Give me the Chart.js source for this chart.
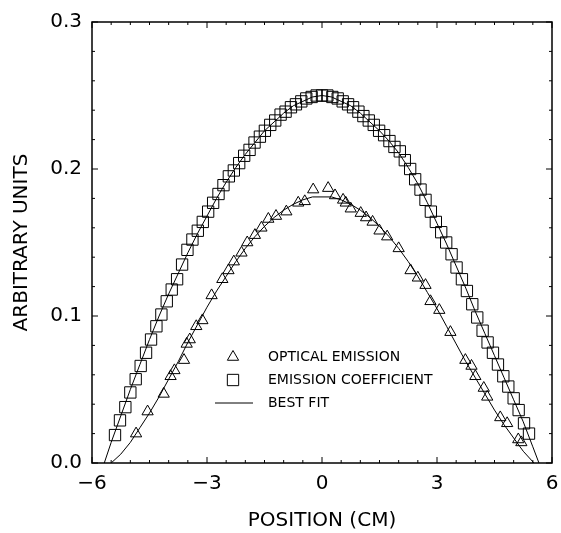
<!DOCTYPE html>
<html lang="en">
<head>
  <meta charset="UTF-8" />
  <title>Arbitrary units vs position</title>
  <script src="https://cdn.jsdelivr.net/npm/chart.js"></script>
  <style>
    body { margin: 0; background: #fff; }
    .wrap { width: 561px; height: 533px; }
  </style>
</head>
<body>
  <div class="wrap"><canvas id="profileChart"></canvas></div>

  <script>
    // optical emission (triangles)
    const triX = [-4.85, -4.55, -4.13, -3.95, -3.85, -3.60, -3.53, -3.45, -3.28, -3.12, -2.88, -2.60, -2.44, -2.30, -2.10, -1.95, -1.75, -1.58, -1.40, -1.20,
                  -0.93, -0.62, -0.45, -0.23, 0.16, 0.34, 0.55, 0.62, 0.75, 1.01, 1.15, 1.32, 1.50, 1.70, 2.00, 2.31, 2.50, 2.70, 2.83, 3.06,
                  3.35, 3.74, 3.90, 4.00, 4.22, 4.31, 4.65, 4.83, 5.12, 5.20];
    const triY = [0.020, 0.035, 0.047, 0.059, 0.063, 0.070, 0.081, 0.084, 0.093, 0.097, 0.114, 0.125, 0.131, 0.137, 0.143, 0.150, 0.155, 0.160, 0.166, 0.168,
                  0.171, 0.177, 0.178, 0.186, 0.187, 0.182, 0.179, 0.177, 0.173, 0.170, 0.167, 0.164, 0.158, 0.154, 0.146, 0.131, 0.126, 0.121, 0.110, 0.104,
                  0.089, 0.070, 0.066, 0.059, 0.051, 0.045, 0.031, 0.027, 0.016, 0.014];

    // emission coefficient (squares)
    const sqX = [-5.40, -5.27, -5.13, -5.00, -4.86, -4.73, -4.59, -4.46, -4.32, -4.19, -4.05, -3.92, -3.78, -3.65, -3.51, -3.38, -3.24, -3.11, -2.97, -2.84,
                 -2.70, -2.57, -2.43, -2.30, -2.16, -2.03, -1.89, -1.76, -1.62, -1.49, -1.35, -1.22, -1.08, -0.95, -0.81, -0.68, -0.54, -0.41, -0.27, -0.14,
                 0.00, 0.14, 0.27, 0.41, 0.54, 0.68, 0.81, 0.95, 1.08, 1.22, 1.35, 1.49, 1.62, 1.76, 1.89, 2.03, 2.16, 2.30, 2.43, 2.57,
                 2.70, 2.84, 2.97, 3.11, 3.24, 3.38, 3.51, 3.65, 3.78, 3.92, 4.05, 4.19, 4.32, 4.46, 4.59, 4.73, 4.86, 5.00, 5.13, 5.27, 5.40];
    const sqY = [0.019, 0.029, 0.038, 0.048, 0.057, 0.066, 0.075, 0.084, 0.093, 0.101, 0.110, 0.118, 0.125, 0.135, 0.145, 0.152, 0.158, 0.164, 0.171, 0.177,
                 0.183, 0.189, 0.195, 0.199, 0.204, 0.209, 0.213, 0.218, 0.222, 0.226, 0.230, 0.233, 0.237, 0.239, 0.242, 0.244, 0.246, 0.248, 0.249, 0.250,
                 0.250, 0.250, 0.249, 0.248, 0.246, 0.244, 0.242, 0.239, 0.236, 0.233, 0.230, 0.226, 0.223, 0.219, 0.215, 0.212, 0.206, 0.200, 0.193, 0.186,
                 0.179, 0.171, 0.164, 0.157, 0.150, 0.142, 0.133, 0.125, 0.117, 0.108, 0.099, 0.090, 0.082, 0.075, 0.067, 0.059, 0.052, 0.044, 0.036, 0.027, 0.020];

    // best fit curves
    const fitTriX = [-5.50, -5.25, -5.00, -4.75, -4.50, -4.25, -4.00, -3.75, -3.50, -3.25, -3.00, -2.75, -2.50, -2.25, -2.00, -1.75, -1.50, -1.25, -1.00, -0.75, -0.50, -0.25,
                     0.00, 0.25, 0.50, 0.75, 1.00, 1.25, 1.50, 1.75, 2.00, 2.25, 2.50, 2.75, 3.00, 3.25, 3.50, 3.75, 4.00, 4.25, 4.50, 4.75, 5.00, 5.25, 5.53];
    const fitTriY = [0.000, 0.006, 0.014, 0.024, 0.034, 0.045, 0.057, 0.069, 0.082, 0.094, 0.106, 0.117, 0.127, 0.137, 0.146, 0.154, 0.161, 0.167, 0.172, 0.176, 0.179, 0.181,
                     0.181, 0.181, 0.179, 0.176, 0.172, 0.167, 0.161, 0.154, 0.146, 0.137, 0.127, 0.116, 0.105, 0.093, 0.081, 0.069, 0.058, 0.047, 0.036, 0.026, 0.017, 0.008, 0.000];
    const fitSqX = [-5.68, -5.50, -5.25, -5.00, -4.75, -4.50, -4.25, -4.00, -3.75, -3.50, -3.25, -3.00, -2.75, -2.50, -2.25, -2.00, -1.75, -1.50, -1.25, -1.00, -0.75, -0.50, -0.25,
                    0.00, 0.25, 0.50, 0.75, 1.00, 1.25, 1.50, 1.75, 2.00, 2.25, 2.50, 2.75, 3.00, 3.25, 3.50, 3.75, 4.00, 4.25, 4.50, 4.75, 5.00, 5.25, 5.50, 5.66];
    const fitSqY = [0.000, 0.014, 0.032, 0.050, 0.067, 0.084, 0.100, 0.115, 0.129, 0.143, 0.156, 0.168, 0.180, 0.191, 0.201, 0.210, 0.218, 0.226, 0.232, 0.238, 0.243, 0.246, 0.249,
                    0.250, 0.249, 0.246, 0.243, 0.238, 0.232, 0.226, 0.219, 0.211, 0.201, 0.190, 0.177, 0.163, 0.149, 0.134, 0.119, 0.103, 0.088, 0.073, 0.058, 0.043, 0.028, 0.011, 0.000];

    const xLabelTicks = [-6, -3, 0, 3, 6];
    const yLabelTicks = [0.0, 0.1, 0.2, 0.3];

    const FONT = 'DejaVu Sans';
    const pts = (xs, ys) => xs.map((x, i) => ({ x: x, y: ys[i] }));
    const isMajor = (v, list) => list.some(t => Math.abs(t - v) < 1e-6);

    // frame with inward ticks on all four sides, plus the boxed-in legend
    const frameTicks = {
      id: 'frameTicks',
      afterDraw(chart) {
        const { ctx, chartArea: a, scales: { x, y } } = chart;
        ctx.save();
        ctx.strokeStyle = '#000';
        ctx.lineWidth = 1.5;
        ctx.strokeRect(a.left, a.top, a.right - a.left, a.bottom - a.top);
        ctx.lineWidth = 1;
        ctx.beginPath();
        x.ticks.forEach(t => {
          const px = x.getPixelForValue(t.value);
          const len = isMajor(t.value, xLabelTicks) ? 6 : 3;
          ctx.moveTo(px, a.bottom); ctx.lineTo(px, a.bottom - len);
          ctx.moveTo(px, a.top); ctx.lineTo(px, a.top + len);
        });
        y.ticks.forEach(t => {
          const py = y.getPixelForValue(t.value);
          const len = isMajor(t.value, yLabelTicks) ? 6 : 3;
          ctx.moveTo(a.left, py); ctx.lineTo(a.left + len, py);
          ctx.moveTo(a.right, py); ctx.lineTo(a.right - len, py);
        });
        ctx.stroke();

        // legend
        const ds = chart.data.datasets;
        const rows = [357, 380, 403];
        ctx.font = '14px "' + FONT + '"';
        ctx.textBaseline = 'middle';
        ctx.textAlign = 'left';
        [0, 1].forEach(i => {
          ctx.fillStyle = 'rgba(0,0,0,0)';
          Chart.helpers.drawPoint(ctx, {
            pointStyle: ds[i].pointStyle, radius: ds[i].pointRadius,
            borderWidth: 1, rotation: 0
          }, 233, rows[i]);
          ctx.fillStyle = '#000';
          ctx.fillText(ds[i].label, 268, rows[i]);
        });
        ctx.beginPath();
        ctx.moveTo(215, rows[2]);
        ctx.lineTo(253, rows[2]);
        ctx.stroke();
        ctx.fillText(ds[2].label, 268, rows[2]);
        ctx.restore();
      }
    };

    new Chart(document.getElementById('profileChart'), {
      type: 'scatter',
      data: {
        datasets: [
          {
            label: 'OPTICAL EMISSION',
            data: pts(triX, triY),
            pointStyle: 'triangle',
            pointRadius: 6.5,
            borderColor: '#000',
            borderWidth: 1,
            backgroundColor: 'rgba(0,0,0,0)'
          },
          {
            label: 'EMISSION COEFFICIENT',
            data: pts(sqX, sqY),
            pointStyle: 'rect',
            pointRadius: 8,
            borderColor: '#000',
            borderWidth: 1,
            backgroundColor: 'rgba(0,0,0,0)'
          },
          {
            label: 'BEST FIT',
            data: pts(fitTriX, fitTriY),
            showLine: true,
            pointRadius: 0,
            borderColor: '#000',
            borderWidth: 1
          },
          {
            label: 'BEST FIT',
            data: pts(fitSqX, fitSqY),
            showLine: true,
            pointRadius: 0,
            borderColor: '#000',
            borderWidth: 1
          }
        ]
      },
      options: {
        responsive: true,
        maintainAspectRatio: false,
        animation: false,
        layout: { padding: { top: 22, right: 6, left: 0, bottom: 0 } },
        plugins: {
          legend: { display: false },
          tooltip: { enabled: false }
        },
        scales: {
          x: {
            type: 'linear',
            min: -6,
            max: 6,
            afterFit: s => { s.height = 70; s.paddingLeft = 0; s.paddingRight = 0; },
            grid: { display: false, drawTicks: false },
            border: { display: false },
            ticks: {
              stepSize: 0.5,
              autoSkip: false,
              maxRotation: 0,
              minRotation: 0,
              padding: 9,
              color: '#000',
              font: { family: FONT, size: 20 },
              callback: v => isMajor(v, xLabelTicks) ? String(Math.round(v)).replace('-', '\u2212') : ''
            },
            title: {
              display: true,
              text: 'POSITION (CM)',
              color: '#000',
              font: { family: FONT, size: 20 },
              padding: { top: 0, bottom: 0 }
            }
          },
          y: {
            min: 0,
            max: 0.3,
            afterFit: s => { s.width = 92; s.paddingTop = 0; s.paddingBottom = 0; },
            grid: { display: false, drawTicks: false },
            border: { display: false },
            ticks: {
              stepSize: 0.02,
              autoSkip: false,
              padding: 10,
              color: '#000',
              font: { family: FONT, size: 20 },
              callback: v => isMajor(v, yLabelTicks) ? v.toFixed(1) : ''
            },
            title: {
              display: true,
              text: 'ARBITRARY UNITS',
              color: '#000',
              font: { family: FONT, size: 20 },
              padding: { top: 10, bottom: 0 }
            }
          }
        }
      },
      plugins: [frameTicks]
    });
  </script>
</body>
</html>
